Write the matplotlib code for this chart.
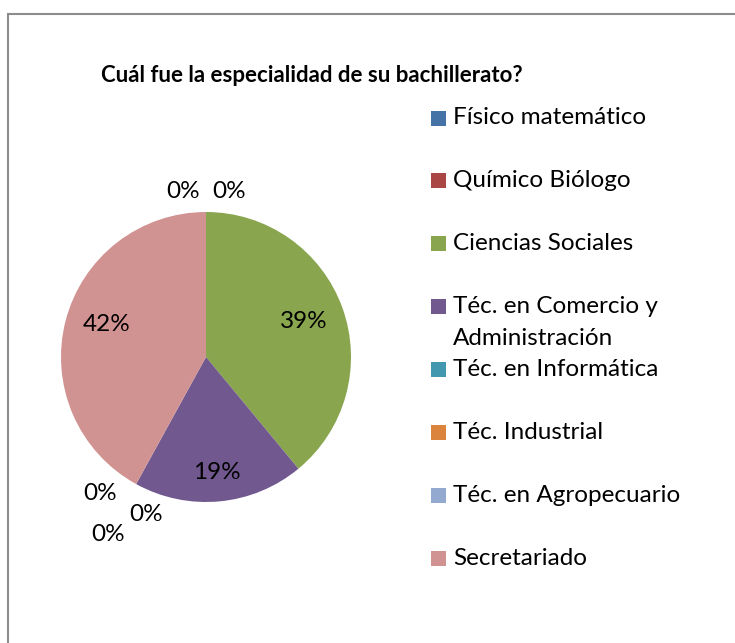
import numpy as np
import matplotlib.pyplot as plt
from matplotlib.patches import Rectangle

# data (percent)
categories = ["Físico matemático", "Químico Biólogo", "Ciencias Sociales",
              "Téc. en Comercio y\nAdministración", "Téc. en Informática",
              "Téc. Industrial", "Téc. en Agropecuario", "Secretariado"]
values = [0, 0, 39, 19, 0, 0, 0, 42]
colors = ["#4572A7", "#AA4643", "#89A54E", "#71588F",
          "#4198AF", "#DB843D", "#93A9CF", "#D19392"]
title = "Cuál fue la especialidad de su bachillerato?"

# label placement: (radius, angle shift in degrees) per slice
label_pos = [(1.15, 8), (1.15, -8), (0.72, 0), (0.80, 0),
             (1.19, -9), (1.16, 8), (1.40, 0), (0.72, -4)]

plt.rcParams['font.family'] = ['Lato', 'DejaVu Sans']
W, H = 735, 643
fig = plt.figure(figsize=(W / 100, H / 100), dpi=100)

# chart frame (only left and top edges visible)
fig.patches.append(Rectangle((8 / W, -0.1), 1.2, 1 - 14 / H + 0.1,
                             transform=fig.transFigure, fill=False,
                             edgecolor="#8c8c8c", linewidth=1.5))

cx, cy, r = 206, 357, 145
side = 2.5 * r
ax = fig.add_axes([(cx - side / 2) / W, (H - cy - side / 2) / H, side / W, side / H])
wedges, _ = ax.pie(values, colors=colors, startangle=90, counterclock=False,
                   wedgeprops=dict(linewidth=0))
ax.set_xlim(-1.25, 1.25)
ax.set_ylim(-1.25, 1.25)
ax.set_aspect('equal')
ax.axis('off')

for w, v, (rad, shift) in zip(wedges, values, label_pos):
    ang = np.deg2rad((w.theta1 + w.theta2) / 2 + shift)
    ax.text(rad * np.cos(ang), rad * np.sin(ang), f"{v}%", ha='center', va='center',
            fontsize=17.5, color='black', clip_on=False)

fig.text(101 / W, 1 - 75 / H, title, fontsize=16, fontweight='bold',
         ha='left', va='center')

# legend
y0, step = 118, 62.9
for i, (lab, c) in enumerate(zip(categories, colors)):
    y = y0 + i * step
    fig.patches.append(Rectangle((431 / W, 1 - (y + 7.5) / H), 15 / W, 15 / H,
                                 transform=fig.transFigure, facecolor=c,
                                 edgecolor='none'))
    for j, line in enumerate(lab.split("\n")):
        fig.text(453 / W, 1 - (y + j * 32) / H, line, fontsize=17.5,
                 ha='left', va='center')

fig.savefig("out.png", dpi=100)
